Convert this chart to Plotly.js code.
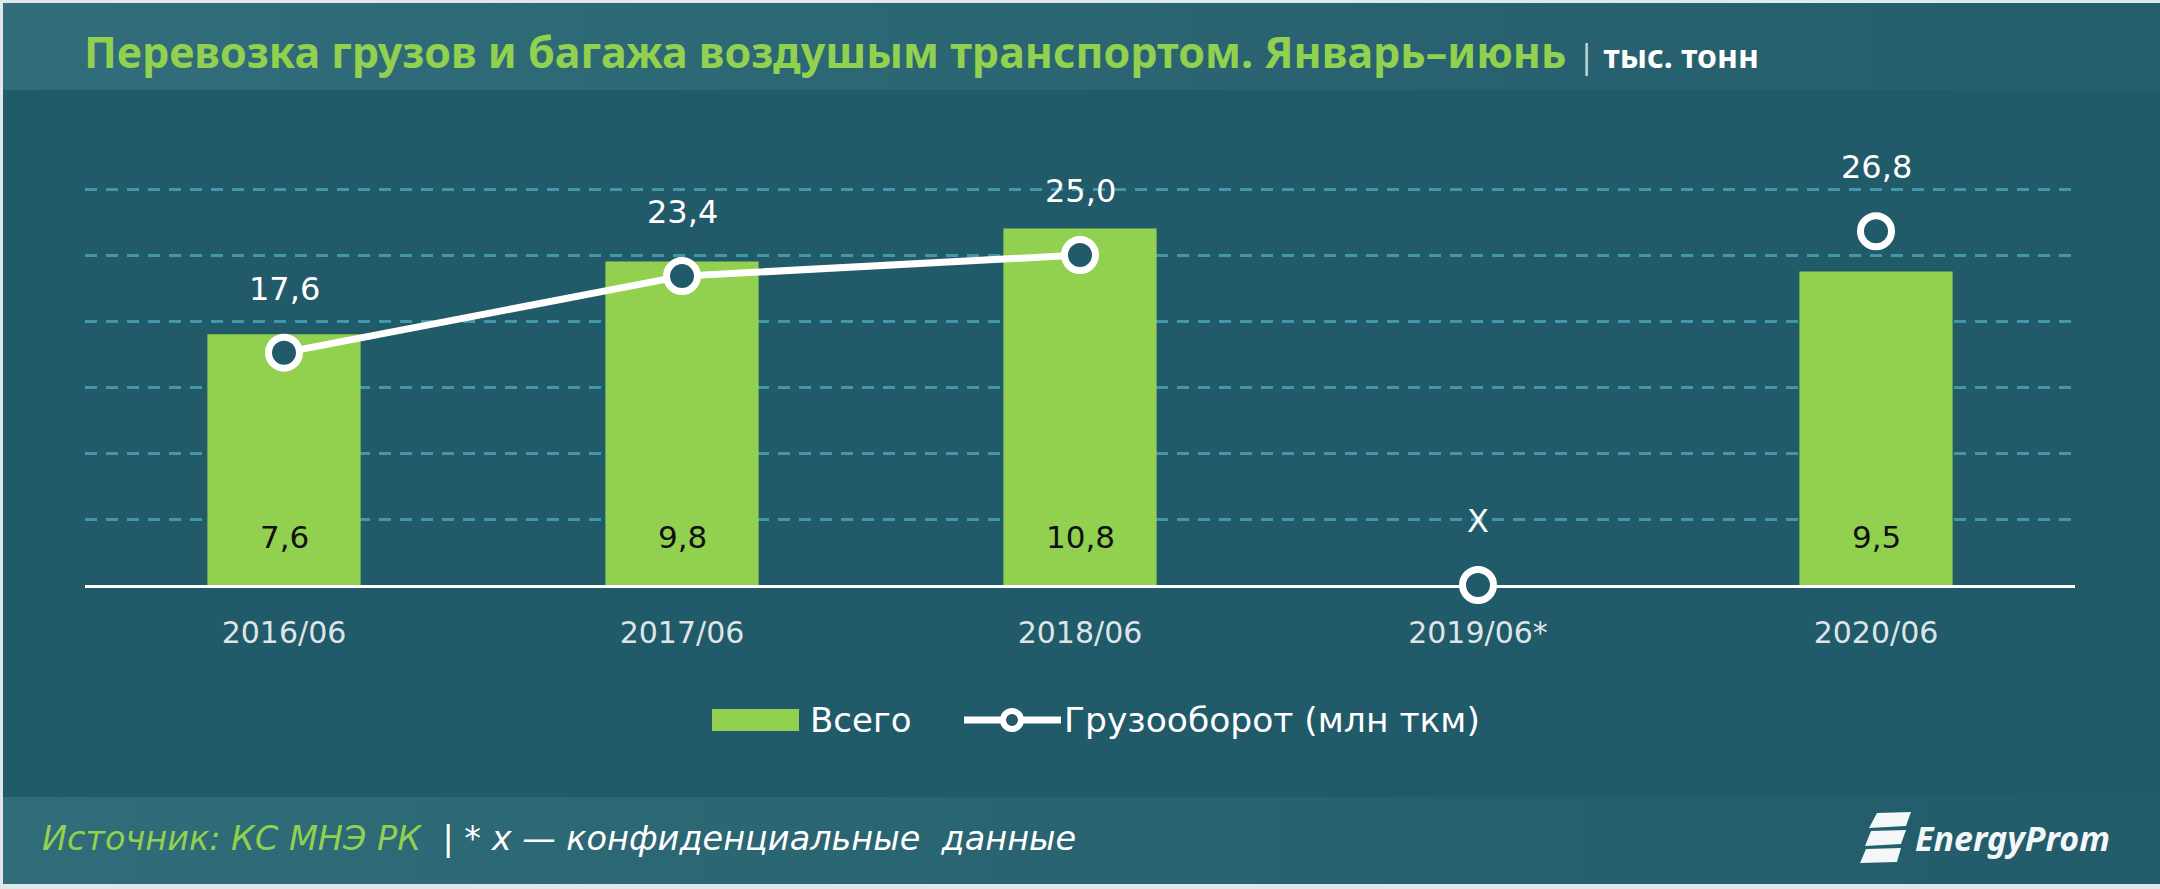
<!DOCTYPE html>
<html>
<head>
<meta charset="utf-8">
<script src="https://cdn.plot.ly/plotly-3.0.1.min.js"></script>
<style>html,body{margin:0;padding:0;background:#dfe8ea;}#chart{width:2160px;height:889px;}</style>
</head>
<body>
<div id="chart"></div>
<script>
// ---- data ----
const categories = ['2016/06', '2017/06', '2018/06', '2019/06*', '2020/06'];
const totals = [7.6, 9.8, 10.8, null, 9.5];            // Всего, тыс. тонн (2019 – конфиденциально)
const turnover = [17.6, 23.4, 25.0, 0, 26.8];          // Грузооборот, млн ткм (2019 – конфиденциально)
const turnoverLabels = ['17,6', '23,4', '25,0', 'X', '26,8'];
const connectedCount = 3;                               // line drawn through first three points
const seriesNames = ['Всего', 'Грузооборот (млн ткм)'];
const titleText = 'Перевозка грузов и багажа воздушым транспортом. Январь–июнь';
const unitText = 'тыс. тонн';
const sourceText = 'Источник: КС МНЭ РК';
const noteText = '* х — конфиденциальные  данные';
const logoText = 'EnergyProm';

// ---- style ----
const W = 2160, H = 889;
const M = {l: 85, r: 85, t: 156, b: 304};
const PW = W - M.l - M.r, PH = H - M.t - M.b;
const BG = '#215a69';
const GREEN = '#92d050';
// pixel -> paper (plot-area relative) coordinates
const px = x => (x - M.l) / PW;
const py = y => (H - M.b - y) / PH;
const fmt = v => v.toFixed(1).replace('.', ',');

function gradient(c1, c2) {
  const svg = `<svg xmlns="http://www.w3.org/2000/svg" width="100" height="10" viewBox="0 0 100 10" preserveAspectRatio="none"><defs><linearGradient id="g" x1="0" x2="1" y1="0" y2="0"><stop offset="0" stop-color="${c1}"/><stop offset="1" stop-color="${c2}"/></linearGradient></defs><rect width="100" height="10" fill="url(#g)"/></svg>`;
  return 'data:image/svg+xml;charset=utf-8,' + encodeURIComponent(svg);
}

const traces = [
  {
    type: 'bar', x: categories, y: totals, name: seriesNames[0],
    marker: {color: GREEN}, yaxis: 'y', hoverinfo: 'x+y', showlegend: false
  },
  {
    type: 'scatter', mode: 'lines', x: categories.slice(0, connectedCount), y: turnover.slice(0, connectedCount),
    name: seriesNames[1], yaxis: 'y2', line: {color: '#ffffff', width: 7}, showlegend: false, hoverinfo: 'skip'
  },
  {
    type: 'scatter', mode: 'markers', x: categories, y: turnover, name: seriesNames[1], yaxis: 'y2',
    marker: {symbol: 'circle', size: 31, color: BG, line: {color: '#ffffff', width: 7}},
    cliponaxis: false, showlegend: false, hoverinfo: 'x+y'
  }
];

const annotations = [];
categories.forEach((c, i) => {
  annotations.push({
    x: c, y: turnover[i], xref: 'x', yref: 'y2', text: turnoverLabels[i], showarrow: false,
    yshift: 64, font: {family: 'DejaVu Sans', size: 32, color: '#ffffff'}
  });
  if (totals[i] !== null) {
    annotations.push({
      x: c, y: 0, xref: 'x', yref: 'y', text: fmt(totals[i]), showarrow: false,
      yshift: 48, font: {family: 'DejaVu Sans', size: 31, color: '#111111'}
    });
  }
});
// legend texts
annotations.push({xref: 'paper', yref: 'paper', x: px(808), y: py(720), xanchor: 'left', yanchor: 'middle',
  text: seriesNames[0], showarrow: false, font: {family: 'DejaVu Sans', size: 34, color: '#ffffff'}});
annotations.push({xref: 'paper', yref: 'paper', x: px(1062), y: py(720), xanchor: 'left', yanchor: 'middle',
  text: seriesNames[1], showarrow: false, font: {family: 'DejaVu Sans', size: 34.5, color: '#ffffff'}});
// footer
annotations.push({xref: 'paper', yref: 'paper', x: px(40), y: py(838), xanchor: 'left', yanchor: 'middle',
  text: '<span style="color:' + GREEN + '">' + sourceText + '</span>  <span style="color:#ffffff">| ' + noteText + '</span>',
  showarrow: false, font: {family: 'DejaVu Sans', size: 33.5, style: 'italic', color: '#ffffff'}});
// logo text
annotations.push({xref: 'paper', yref: 'paper', x: px(1913), y: py(838), xanchor: 'left', yanchor: 'middle',
  text: logoText, showarrow: false, font: {family: 'Noto Sans', size: 34, style: 'italic', weight: 'bold', color: '#f4f7f8'}});

function poly(pts) {
  return 'M' + pts.map(p => px(p[0]).toFixed(5) + ',' + py(p[1]).toFixed(5)).join('L') + 'Z';
}

const shapes = [
  // thin light border (top, left, bottom)
  {type: 'rect', xref: 'paper', yref: 'paper', x0: px(0), x1: px(W), y0: py(3), y1: py(0), fillcolor: '#dfe8ea', line: {width: 0}, layer: 'below'},
  {type: 'rect', xref: 'paper', yref: 'paper', x0: px(0), x1: px(3), y0: py(H), y1: py(0), fillcolor: '#dfe8ea', line: {width: 0}, layer: 'below'},
  {type: 'rect', xref: 'paper', yref: 'paper', x0: px(0), x1: px(W), y0: py(H), y1: py(884), fillcolor: '#dfe8ea', line: {width: 0}, layer: 'below'},
  // legend symbols
  {type: 'rect', xref: 'paper', yref: 'paper', x0: px(712), x1: px(799), y0: py(731), y1: py(709), fillcolor: GREEN, line: {width: 0}},
  {type: 'line', xref: 'paper', yref: 'paper', x0: px(964), x1: px(1061), y0: py(720), y1: py(720), line: {color: '#ffffff', width: 7}},
  {type: 'circle', xref: 'paper', yref: 'paper', xsizemode: 'pixel', ysizemode: 'pixel',
   xanchor: px(1012), yanchor: py(720), x0: -9, x1: 9, y0: -9, y1: 9, fillcolor: BG, line: {color: '#ffffff', width: 6}},
  // logo icon
  {type: 'path', xref: 'paper', yref: 'paper', path: poly([[1877, 813], [1911, 812], [1906, 826], [1869, 828]]), fillcolor: '#f4f7f8', line: {width: 0}},
  {type: 'path', xref: 'paper', yref: 'paper', path: poly([[1871, 831], [1906, 830], [1901, 844], [1865, 846]]), fillcolor: '#f4f7f8', line: {width: 0}},
  {type: 'path', xref: 'paper', yref: 'paper', path: poly([[1866, 849], [1901, 848], [1897, 862], [1860, 863]]), fillcolor: '#f4f7f8', line: {width: 0}}
];

const layout = {
  width: W, height: H,
  paper_bgcolor: BG, plot_bgcolor: 'rgba(0,0,0,0)',
  margin: {l: M.l, r: M.r, t: M.t, b: M.b, pad: 0},
  separators: ', ',
  showlegend: false,
  bargap: 0.615,
  title: {
    text: '<b>' + titleText + '</b> <span style="font-size:32px;color:#c9d6da">|</span><b><span style="font-size:32px;color:#ffffff"> ' + unitText + '</span></b>',
    xref: 'container', yref: 'container', x: 84 / W, xanchor: 'left', y: 1 - 53 / H, yanchor: 'middle',
    font: {family: 'Noto Sans', size: 43, color: GREEN}
  },
  xaxis: {
    type: 'category', categoryorder: 'array', categoryarray: categories, range: [-0.5, 4.5],
    showgrid: false, zeroline: false, showline: true, linecolor: '#ffffff', linewidth: 3,
    ticks: '', ticklabelstandoff: 19, layer: 'below traces',
    tickfont: {family: 'DejaVu Sans', size: 30, color: '#dde5e7'}, fixedrange: true
  },
  yaxis: {
    range: [0, 13], tick0: 0, dtick: 2, showticklabels: false, zeroline: false,
    showgrid: true, gridcolor: '#4298aa', gridwidth: 3, griddash: '12px,9px', fixedrange: true
  },
  yaxis2: {
    overlaying: 'y', side: 'right', range: [0, 32.5], showgrid: false, zeroline: false,
    showticklabels: false, fixedrange: true
  },
  images: [
    {source: gradient('#316d7a', '#245d6b'), xref: 'paper', yref: 'paper', x: px(3), y: py(3), sizex: (W - 3) / PW, sizey: 87 / PH,
     xanchor: 'left', yanchor: 'top', sizing: 'stretch', layer: 'below'},
    {source: gradient('#306c79', '#225b69'), xref: 'paper', yref: 'paper', x: px(3), y: py(797), sizex: (W - 3) / PW, sizey: 87 / PH,
     xanchor: 'left', yanchor: 'top', sizing: 'stretch', layer: 'below'}
  ],
  shapes: shapes,
  annotations: annotations
};

Plotly.newPlot('chart', traces, layout, {displayModeBar: false, staticPlot: true});
</script>
</body>
</html>
